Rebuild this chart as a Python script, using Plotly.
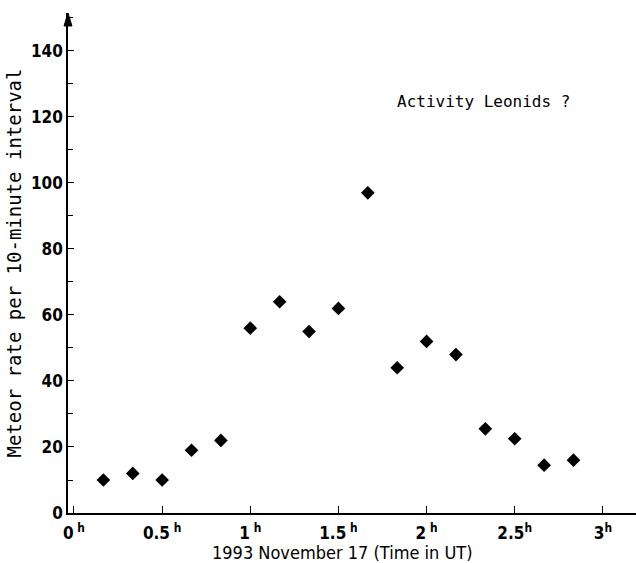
import plotly.graph_objects as go

# Data: meteor counts per 10-minute interval (time in hours UT)
minutes = [10, 20, 30, 40, 50, 60, 70, 80, 90, 100, 110, 120, 130, 140, 150, 160, 170]
rates = [10, 12, 10, 19, 22, 56, 64, 55, 62, 97, 44, 52, 48, 25.5, 22.5, 14.5, 16]
hours = [m / 60 for m in minutes]

x_tickvals = [0, 0.5, 1, 1.5, 2, 2.5, 3]
x_ticktext = ["0<sup> h</sup>", "0.5<sup> h</sup>", "1<sup> h</sup>", "1.5<sup> h</sup>",
              "2<sup> h</sup>", "2.5<sup>h</sup>", "3<sup>h</sup>"]
y_tickvals = [0, 20, 40, 60, 80, 100, 120, 140]

FONT = "DejaVu Sans Mono"
NARROW = "DejaVu Sans Condensed, Liberation Sans Narrow, DejaVu Sans Mono"

fig = go.Figure()
fig.add_trace(go.Scatter(
    x=hours, y=rates, mode="markers",
    marker=dict(symbol="diamond", size=10.5, color="black"),
    showlegend=False, hoverinfo="skip",
))

fig.update_layout(
    width=636, height=563,
    margin=dict(l=68, r=0, t=13, b=50),
    paper_bgcolor="white", plot_bgcolor="white",
    font=dict(family=FONT, color="black"),
    xaxis=dict(
        range=[-0.034, 3.188],
        tickvals=x_tickvals, ticktext=x_ticktext,
        ticks="inside", ticklen=7, tickwidth=1.2, tickcolor="black",
        showline=True, linecolor="black", linewidth=1.5,
        showgrid=False, zeroline=False,
        tickfont=dict(family=NARROW, size=17, color="black", weight="bold"),
        ticklabelstandoff=4,
        fixedrange=True,
    ),
    yaxis=dict(
        range=[0, 151.5],
        tickvals=y_tickvals,
        ticks="inside", ticklen=6, tickwidth=1.2, tickcolor="black",
        minor=dict(dtick=10, tick0=0, ticks="inside", ticklen=5, tickcolor="black", tickwidth=1),
        showline=True, linecolor="black", linewidth=1.5,
        showgrid=False, zeroline=False,
        tickfont=dict(family=NARROW, size=17, color="black", weight="bold"),
        title=dict(text="Meteor rate per 10-minute interval",
                   font=dict(family=FONT, size=19, color="black"), standoff=4),
        fixedrange=True,
    ),
    annotations=[
        dict(text="Activity Leonids ?", xref="paper", yref="paper",
             x=(483 - 68) / 568, y=(513 - 101) / 500, xanchor="center", yanchor="middle",
             showarrow=False, font=dict(family=FONT, size=16, color="black")),
        dict(text="1993 November 17 (Time in UT)", xref="paper", yref="paper",
             x=(342 - 68) / 568, y=-(552 - 513) / 500, xanchor="center", yanchor="middle",
             showarrow=False, font=dict(family=NARROW, size=18, color="black")),
    ],
    shapes=[
        dict(type="path", xref="paper", yref="paper",
             path="M -0.007 0.974 L 0.007 0.974 L 0 1.0 Z",
             fillcolor="black", line=dict(color="black", width=1)),
    ],
)

fig.write_html("out.html")
